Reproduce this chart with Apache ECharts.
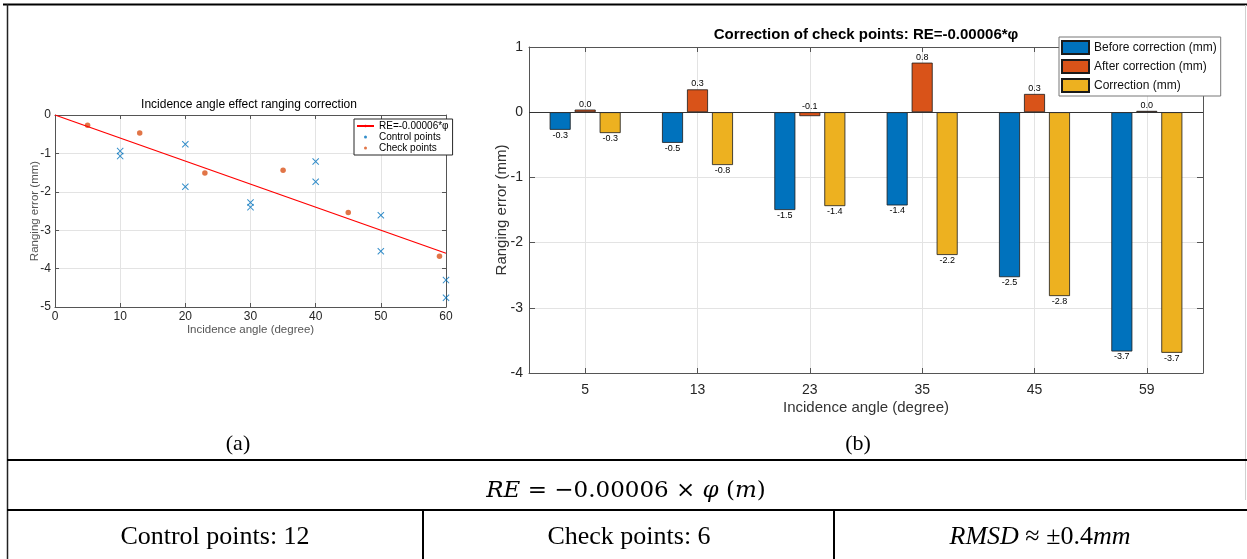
<!DOCTYPE html>
<html>
<head>
<meta charset="utf-8">
<script src="https://cdn.jsdelivr.net/npm/echarts@6/dist/echarts.min.js"></script>
<style>
body { margin: 0; background: #fff; }
#main { width: 1247px; height: 559px; }
</style>
</head>
<body>
<div id="main"></div>
<script>
// (a) 入射角改正散点
var ctrlAngle = [10, 10, 20, 20, 30, 30, 40, 40, 50, 50, 60, 60];
var ctrlError = [-0.94, -1.07, -0.76, -1.87, -2.28, -2.40, -1.21, -1.74, -2.61, -3.55, -4.30, -4.76];
var checkAngle = [5, 13, 23, 35, 45, 59];
var checkError = [-0.27, -0.47, -1.51, -1.44, -2.54, -3.68];
var fitAngle = [0, 60];
var fitError = [0, -3.6];

// (b) 检查点改正柱状图
var categories = ['5', '13', '23', '35', '45', '59'];
var beforeCorr = [-0.27, -0.47, -1.50, -1.43, -2.53, -3.67];
var afterCorr = [0.04, 0.35, -0.06, 0.76, 0.28, 0.02];
var correction = [-0.32, -0.81, -1.44, -2.19, -2.82, -3.69];

var sans = 'Liberation Sans, Arial, sans-serif';
var serif = 'Liberation Serif, Times New Roman, serif';
var mathFont = 'DejaVu Serif, serif';
var axisCol = '#555';
var gridCol = '#e3e3e3';

function zip(a, b) {
	var out = [];
	for (var i = 0; i < a.length; i++) out.push([a[i], b[i]]);
	return out;
}

var chart = echarts.init(document.getElementById('main'));

function boxAxis(extra) {
	var base = {
		axisLine: { show: true, onZero: false, lineStyle: { color: axisCol, width: 1 } },
		axisTick: { show: true, inside: true, length: 4, lineStyle: { color: axisCol } },
		axisLabel: { show: false },
		splitLine: { show: false },
		nameMoveOverlap: false
	};
	return Object.assign(base, extra);
}

var barLabel = function(pos) {
	return {
		show: true,
		position: pos,
		distance: 1,
		fontSize: 9,
		fontFamily: sans,
		color: '#000',
		formatter: function(p) { return p.value.toFixed(1); }
	};
};

var option = {
	animation: false,
	textStyle: { fontFamily: sans },
	grid: [
		{ left: 55, top: 115, width: 391, height: 192 },
		{ left: 529, top: 47, width: 674, height: 326 }
	],
	xAxis: [
		boxAxis({
			gridIndex: 0, type: 'value', min: 0, max: 60, interval: 10, position: 'bottom',
			axisLabel: { show: true, fontSize: 12, color: '#262626', margin: 4 },
			splitLine: { show: true, lineStyle: { color: gridCol } },
			name: 'Incidence angle (degree)', nameLocation: 'middle', nameGap: 17,
			nameTextStyle: { fontSize: 11.5, color: '#555' }
		}),
		boxAxis({ gridIndex: 0, type: 'value', min: 0, max: 60, interval: 10, position: 'top' }),
		boxAxis({
			gridIndex: 1, type: 'category', data: categories, position: 'bottom',
			axisTick: { show: true, inside: true, length: 5, alignWithLabel: true, lineStyle: { color: axisCol } },
			axisLabel: { show: true, fontSize: 14, color: '#262626', margin: 10 },
			splitLine: { show: true, alignWithLabel: true, lineStyle: { color: gridCol } },
			name: 'Incidence angle (degree)', nameLocation: 'middle', nameGap: 27,
			nameTextStyle: { fontSize: 15, color: '#333' }
		}),
		boxAxis({
			gridIndex: 1, type: 'category', data: categories, position: 'top',
			axisTick: { show: true, inside: true, length: 5, alignWithLabel: true, lineStyle: { color: axisCol } }
		})
	],
	yAxis: [
		boxAxis({
			gridIndex: 0, type: 'value', min: -5, max: 0, interval: 1, position: 'left',
			axisLabel: { show: true, fontSize: 12, color: '#262626', margin: 4 },
			splitLine: { show: true, lineStyle: { color: gridCol } },
			name: 'Ranging error (mm)', nameLocation: 'middle', nameGap: 14,
			nameTextStyle: { fontSize: 11.5, color: '#555' }
		}),
		boxAxis({ gridIndex: 0, type: 'value', min: -5, max: 0, interval: 1, position: 'right' }),
		boxAxis({
			gridIndex: 1, type: 'value', min: -4, max: 1, interval: 1, position: 'left',
			axisTick: { show: true, inside: true, length: 6, lineStyle: { color: axisCol } },
			axisLabel: { show: true, fontSize: 14, color: '#262626', margin: 6 },
			splitLine: { show: true, lineStyle: { color: gridCol } },
			name: 'Ranging error (mm)', nameLocation: 'middle', nameGap: 20,
			nameTextStyle: { fontSize: 15, color: '#333' }
		}),
		boxAxis({
			gridIndex: 1, type: 'value', min: -4, max: 1, interval: 1, position: 'right',
			axisTick: { show: true, inside: true, length: 6, lineStyle: { color: axisCol } }
		})
	],
	legend: [
		{
			orient: 'vertical', left: 354, top: 119,
			itemWidth: 17, itemHeight: 3, itemGap: 1,
			padding: [2, 4, 2, 2],
			borderColor: '#262626', borderWidth: 1, backgroundColor: '#fff',
			textStyle: { fontSize: 10, color: '#000', fontFamily: sans },
			data: [
				{ name: 'RE=-0.00006*φ' },
				{ name: 'Control points', icon: 'circle', itemStyle: { color: '#0072BD' } },
				{ name: 'Check points', icon: 'circle', itemStyle: { color: '#D95319' } }
			]
		},
		{
			orient: 'vertical', left: 1059, top: 37,
			itemWidth: 27, itemHeight: 13, itemGap: 4,
			padding: [3, 4, 3, 2],
			borderColor: '#777', borderWidth: 1, backgroundColor: '#fff',
			textStyle: { fontSize: 12, color: '#111', fontFamily: sans },
			icon: 'rect',
			data: ['Before correction (mm)', 'After correction (mm)', 'Correction (mm)']
		}
	],
	series: [
		{
			name: 'RE=-0.00006*φ', type: 'line', xAxisIndex: 0, yAxisIndex: 0,
			data: zip(fitAngle, fitError), symbol: 'none',
			lineStyle: { color: '#FF0000', width: 1.3 }, itemStyle: { color: '#FF0000' }
		},
		{
			name: 'Control points', type: 'scatter', xAxisIndex: 0, yAxisIndex: 0,
			data: zip(ctrlAngle, ctrlError),
			symbol: 'path://M0,1L1,0L5,4L9,0L10,1L6,5L10,9L9,10L5,6L1,10L0,9L4,5Z',
			symbolSize: 7, itemStyle: { color: '#0072BD' }
		},
		{
			name: 'Check points', type: 'scatter', xAxisIndex: 0, yAxisIndex: 0,
			data: zip(checkAngle, checkError), symbol: 'circle', symbolSize: 5.5,
			itemStyle: { color: '#D95319' }
		},
		{
			name: 'Before correction (mm)', type: 'bar', xAxisIndex: 2, yAxisIndex: 2,
			data: beforeCorr, barWidth: 21, barGap: '19%',
			itemStyle: { color: '#0072BD', borderColor: '#1a1a1a', borderWidth: 0.8 },
			label: barLabel('bottom'),
			markLine: {
				silent: true, symbol: 'none', label: { show: false },
				lineStyle: { color: '#333', width: 1, type: 'solid' },
				data: [{ yAxis: 0 }]
			}
		},
		{
			name: 'After correction (mm)', type: 'bar', xAxisIndex: 2, yAxisIndex: 2,
			data: afterCorr, barWidth: 21, barGap: '19%',
			itemStyle: { color: '#D95319', borderColor: '#1a1a1a', borderWidth: 0.8 },
			label: barLabel('top')
		},
		{
			name: 'Correction (mm)', type: 'bar', xAxisIndex: 2, yAxisIndex: 2,
			data: correction, barWidth: 21, barGap: '19%',
			itemStyle: { color: '#EDB120', borderColor: '#1a1a1a', borderWidth: 0.8 },
			label: barLabel('bottom')
		}
	],
	graphic: [
		// 子图标题
		{ type: 'text', x: 249, y: 105, style: { text: 'Incidence angle effect ranging correction', font: '12px ' + sans, fill: '#000', textAlign: 'center', textVerticalAlign: 'middle' } },
		{ type: 'text', x: 866, y: 35, style: { text: 'Correction of check points: RE=-0.00006*φ', font: 'bold 15px ' + sans, fill: '#000', textAlign: 'center', textVerticalAlign: 'middle' } },
		{ type: 'text', x: 238, y: 444, style: { text: '(a)', font: '22px ' + serif, fill: '#000', textAlign: 'center', textVerticalAlign: 'middle' } },
		{ type: 'text', x: 858, y: 444, style: { text: '(b)', font: '22px ' + serif, fill: '#000', textAlign: 'center', textVerticalAlign: 'middle' } },
		// 表格线
		{ type: 'line', shape: { x1: 3, y1: 4.5, x2: 1247, y2: 4.5 }, style: { stroke: '#000', lineWidth: 2 } },
		{ type: 'line', shape: { x1: 7.5, y1: 4, x2: 7.5, y2: 559 }, style: { stroke: '#222', lineWidth: 1.5 } },
		{ type: 'line', shape: { x1: 1245.5, y1: 5, x2: 1245.5, y2: 500 }, style: { stroke: '#d0d0d0', lineWidth: 1 } },
		{ type: 'line', shape: { x1: 7, y1: 460, x2: 1247, y2: 460 }, style: { stroke: '#000', lineWidth: 2 } },
		{ type: 'line', shape: { x1: 7, y1: 510, x2: 1247, y2: 510 }, style: { stroke: '#000', lineWidth: 2 } },
		{ type: 'line', shape: { x1: 423, y1: 510, x2: 423, y2: 559 }, style: { stroke: '#000', lineWidth: 2 } },
		{ type: 'line', shape: { x1: 834, y1: 510, x2: 834, y2: 559 }, style: { stroke: '#000', lineWidth: 2 } },
		// 表格文字
		{
			type: 'text', x: 626, y: 491,
			style: {
				text: '{i|RE} = −0.00006 × {i|φ} ({i|m})',
				font: '23px ' + mathFont, fill: '#000', textAlign: 'center', textVerticalAlign: 'middle',
				rich: { i: { fontStyle: 'italic', fontFamily: mathFont, fontSize: 23 } }
			}
		},
		{ type: 'text', x: 215, y: 537, style: { text: 'Control points: 12', font: '26px ' + serif, fill: '#000', textAlign: 'center', textVerticalAlign: 'middle' } },
		{ type: 'text', x: 629, y: 537, style: { text: 'Check points: 6', font: '26px ' + serif, fill: '#000', textAlign: 'center', textVerticalAlign: 'middle' } },
		{
			type: 'text', x: 1040, y: 537,
			style: {
				text: '{i|RMSD} ≈ ±0.4{i|mm}',
				font: '26px ' + serif, fill: '#000', textAlign: 'center', textVerticalAlign: 'middle',
				rich: { i: { fontStyle: 'italic', fontFamily: serif, fontSize: 26 } }
			}
		}
	]
};

chart.setOption(option);
</script>
</body>
</html>
